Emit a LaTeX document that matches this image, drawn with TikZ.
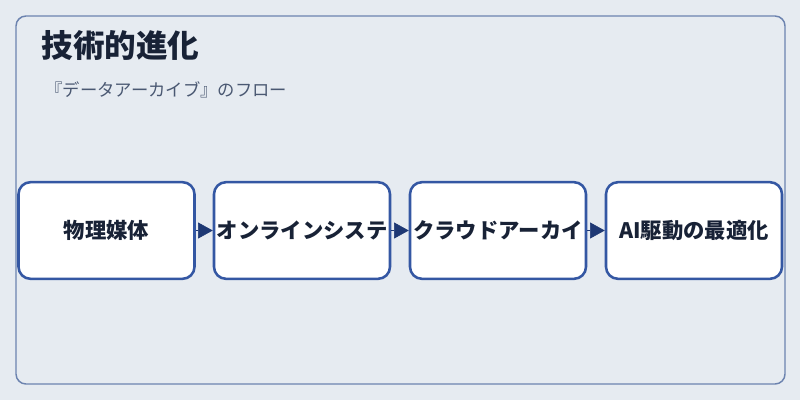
\documentclass[tikz,border=0pt]{standalone}
\usepackage{fontspec}
\setmainfont{Noto Sans CJK JP}
\usetikzlibrary{arrows.meta,positioning}

\definecolor{pagebg}{RGB}{230,235,241}
\definecolor{framerim}{RGB}{108,131,175}
\definecolor{boxrim}{RGB}{52,87,163}
\definecolor{arrowink}{RGB}{30,56,116}
\definecolor{titleink}{RGB}{24,34,54}
\definecolor{subink}{RGB}{74,88,114}

\tikzset{every picture/.style={line width=0.75pt}}

\begin{document}
\begin{tikzpicture}[x=0.75pt,y=0.75pt,yscale=-1,xscale=1,
	stage/.style={draw=boxrim, line width=1.9pt, fill=white, rounded corners=9pt, minimum width=132pt, minimum height=72.5pt, inner sep=0pt, text=titleink, font=\bfseries\fontsize{16}{18}\selectfont},
	flow/.style={draw=arrowink, line width=0.4pt, -{Triangle[length=11pt,width=12pt]}}]
	%uncomment if require: \path (0,400); %set diagram left start at 0, and has height of 400
	\useasboundingbox [fill=pagebg] (0,0) rectangle (800,400);
	
	%Shape: Rectangle [id:frame]
	\draw [color=framerim, line width=1.1pt, rounded corners=7.5pt] (16,16) rectangle (785,384);
	
	% Text Node
	\node (title) [anchor=west, inner sep=0.75pt, text=titleink, font=\bfseries\fontsize{23.7}{27}\selectfont] at (40,46) {技術的進化};
	% Text Node
	\node (subtitle) [anchor=west, inner sep=0.75pt, text=subink, font=\fontsize{13}{15}\selectfont] at (44,90) {『データアーカイブ』のフロー};
	
	% Stage boxes
	\node (media) [stage] at (106.5,230.5) {物理媒体};
	\node (online) [stage] at (302,230.5) {オンラインシステ};
	\node (cloud) [stage] at (498,230.5) {クラウドアーカイ};
	\node (aiopt) [stage] at (694,230.5) {AI駆動の最適化};
	
	% Connectors
	\draw [flow] (media) -- (online);
	\draw [flow] (online) -- (cloud);
	\draw [flow] (cloud) -- (aiopt);
	
\end{tikzpicture}
\end{document}
